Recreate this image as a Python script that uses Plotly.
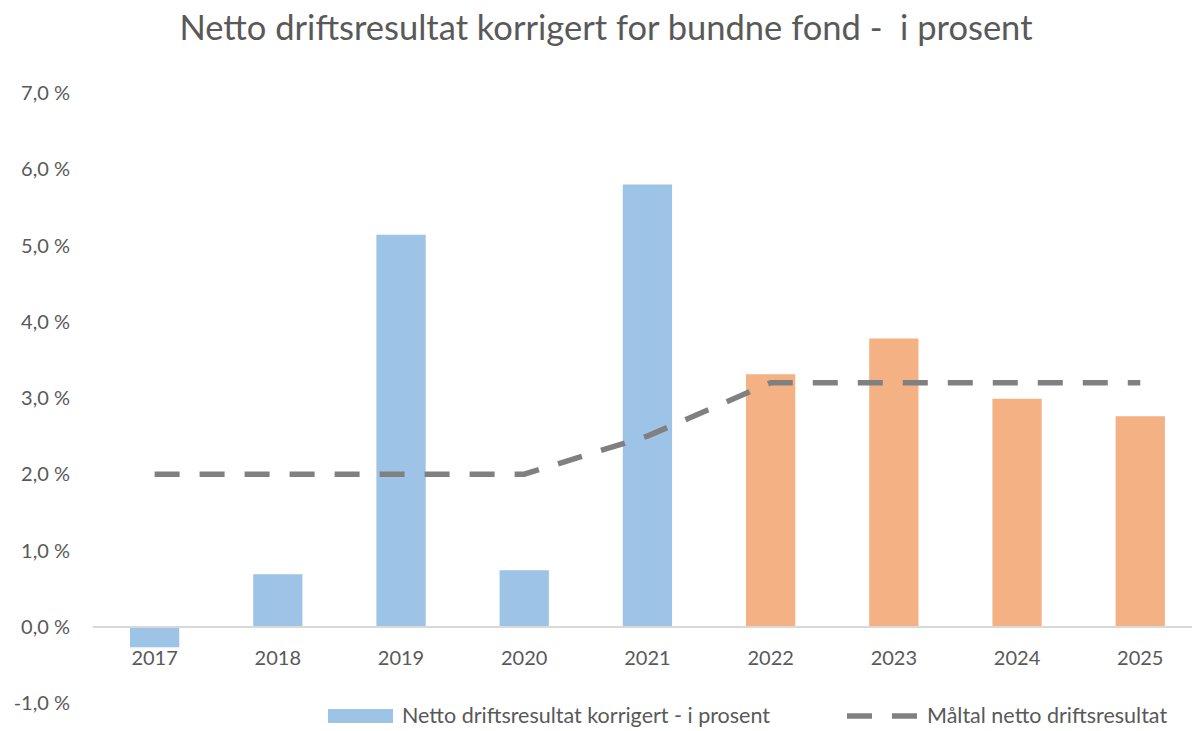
import plotly.graph_objects as go

years = ["2017", "2018", "2019", "2020", "2021", "2022", "2023", "2024", "2025"]
netto = [-0.27, 0.69, 5.14, 0.74, 5.80, 3.31, 3.78, 2.99, 2.76]
maltal = [2.0, 2.0, 2.0, 2.0, 2.5, 3.2, 3.2, 3.2, 3.2]
bar_colors = ["#9DC3E6"] * 5 + ["#F4B183"] * 4
ytick_vals = [-1, 0, 1, 2, 3, 4, 5, 6, 7]
ytick_text = ["-1,0 %", "0,0 %", "1,0 %", "2,0 %", "3,0 %", "4,0 %", "5,0 %", "6,0 %", "7,0 %"]
bar_name = "Netto driftsresultat korrigert - i prosent"
line_name = "Måltal netto driftsresultat"

FONT = "Lato"
GREY = "#595959"
BLUE = "#9DC3E6"
LINEGREY = "#808080"
W, H = 1192, 731
ML, MT = 93, 93
PW, PH = W - ML, H - MT  # paper size (zero right/bottom margin)


def px(x):
    return (x - ML) / PW


def py(y):
    return (H - y) / PH


fig = go.Figure()
fig.add_trace(go.Bar(
    x=years, y=netto, name=bar_name,
    marker=dict(color=bar_colors, line=dict(width=0)), width=0.4,
))
fig.add_trace(go.Scatter(
    x=years, y=maltal, name=line_name, mode="lines",
    line=dict(color=LINEGREY, width=5.5, dash="25px,20px"),
))

# legend drawn at the bottom like the original
leg_y = 716
shapes = [
    dict(type="rect", xref="paper", yref="paper", x0=px(328), x1=px(393),
         y0=py(leg_y + 7), y1=py(leg_y - 7), fillcolor=BLUE, line=dict(width=0)),
    dict(type="line", xref="paper", yref="paper", x0=px(847), x1=px(917),
         y0=py(leg_y), y1=py(leg_y), line=dict(color=LINEGREY, width=5.5, dash="25px,20px")),
]
annotations = [
    dict(text=bar_name, xref="paper", yref="paper", x=px(400), y=py(leg_y - 1),
         xanchor="left", yanchor="middle", showarrow=False,
         font=dict(size=21.5, color=GREY, family=FONT)),
    dict(text=line_name, xref="paper", yref="paper", x=px(925), y=py(leg_y - 1),
         xanchor="left", yanchor="middle", showarrow=False,
         font=dict(size=21.5, color=GREY, family=FONT)),
]

fig.update_layout(
    width=W, height=H,
    margin=dict(l=ML, r=0, t=MT, b=0),
    paper_bgcolor="white", plot_bgcolor="white",
    font=dict(family=FONT, color=GREY, size=20),
    title=dict(text="Netto driftsresultat korrigert for bundne fond -  i prosent",
               x=606 / W, xanchor="center", xref="container",
               y=1 - 28 / H, yanchor="middle", yref="container",
               font=dict(size=34.5, color=GREY, family=FONT)),
    showlegend=False,
    shapes=shapes,
    annotations=annotations,
)
fig.update_xaxes(
    type="category", range=[-0.5, 8.42], anchor="free", position=py(626.75),
    showline=True, linecolor="#D9D9D9", linewidth=2, showgrid=False, automargin=False,
    ticks="", tickfont=dict(size=20, color=GREY, family=FONT), ticklabelstandoff=13,
)
fig.update_yaxes(
    domain=[py(703), 1], automargin=False,
    range=[-1, 7], tickvals=ytick_vals, ticktext=ytick_text,
    showgrid=False, zeroline=False, showline=False,
    tickfont=dict(size=20, color=GREY, family=FONT), ticklabelstandoff=22,
)

fig.write_html("out.html")
